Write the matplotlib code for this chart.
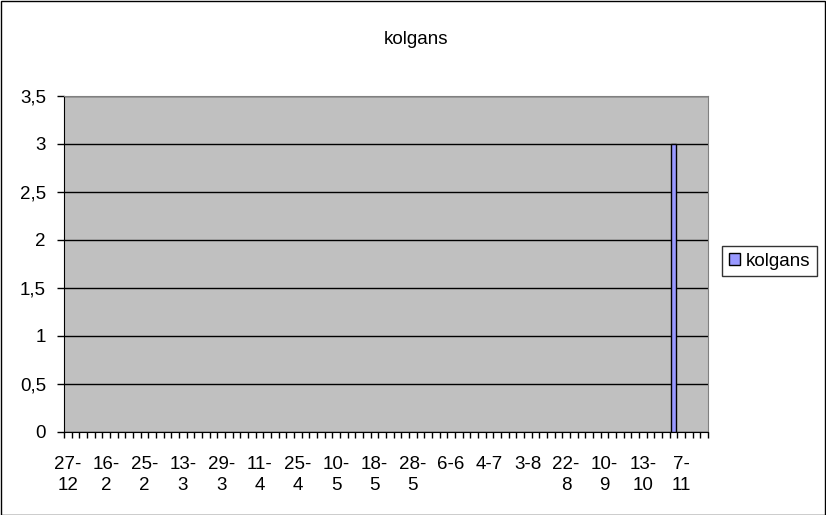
import matplotlib.pyplot as plt
from matplotlib.patches import Rectangle

plt.rcParams['font.family'] = ['Liberation Sans', 'DejaVu Sans']

title = "kolgans"
series_name = "kolgans"
n_categories = 84
bar_index = [79]
bar_values = [3]
label_every = 5
tick_labels = ["27-\n12", "16-\n2", "25-\n2", "13-\n3", "29-\n3", "11-\n4", "25-\n4",
               "10-\n5", "18-\n5", "28-\n5", "6-6", "4-7", "3-8", "22-\n8", "10-\n9",
               "13-\n10", "7-\n11"]
y_ticks = [0, 0.5, 1, 1.5, 2, 2.5, 3, 3.5]
y_labels = ["0", "0,5", "1", "1,5", "2", "2,5", "3", "3,5"]

fs = 13.5
fig = plt.figure(figsize=(8.26, 5.15), dpi=100)
W, H = 826, 515
ax = fig.add_axes([64 / W, 1 - 432 / H, (708 - 64) / W, (432 - 96) / H])
ax.set_facecolor('#C0C0C0')

ax.bar(bar_index, bar_values, width=0.78, color='#9999FF', edgecolor='black',
       linewidth=1, label=series_name, zorder=3)

ax.set_xlim(-0.5, n_categories - 0.5)
ax.set_ylim(0, 3.5)
ax.set_yticks(y_ticks)
ax.set_yticklabels(y_labels, fontsize=fs)
ax.grid(axis='y', color='black', linewidth=1)
ax.set_axisbelow(True)

ax.set_xticks([i + 0.5 for i in range(-1, n_categories)], minor=True)
ax.set_xticks([i * label_every for i in range(len(tick_labels))])
ax.set_xticklabels(tick_labels, fontsize=fs, linespacing=1.3, va='top')
ax.tick_params(axis='x', which='major', length=0, pad=17)
ax.tick_params(axis='x', which='minor', length=4, width=1, direction='out')
ax.tick_params(axis='y', length=5, width=1, direction='out', pad=8)

for s in ['top', 'right']:
    ax.spines[s].set_color('#808080')
ax.spines['left'].set_color('black')
ax.spines['bottom'].set_color('black')

fig.text(416 / W, 1 - 40 / H, title, ha='center', va='center', fontsize=fs)

leg = fig.legend(loc='center left', bbox_to_anchor=(722 / W, 1 - 261 / H),
                 fontsize=fs, frameon=True, fancybox=False, handlelength=0.6,
                 handleheight=0.6, handletextpad=0.3, borderpad=0.35,
                 borderaxespad=0)
leg.get_frame().set_edgecolor('black')
leg.get_frame().set_linewidth(1)

fig.patches.append(Rectangle((0.5 / W, 0.5 / H), 1 - 1.5 / W, 1 - 1.5 / H,
                             transform=fig.transFigure, fill=False,
                             edgecolor='black', linewidth=1))

fig.savefig('out.png', dpi=100)
